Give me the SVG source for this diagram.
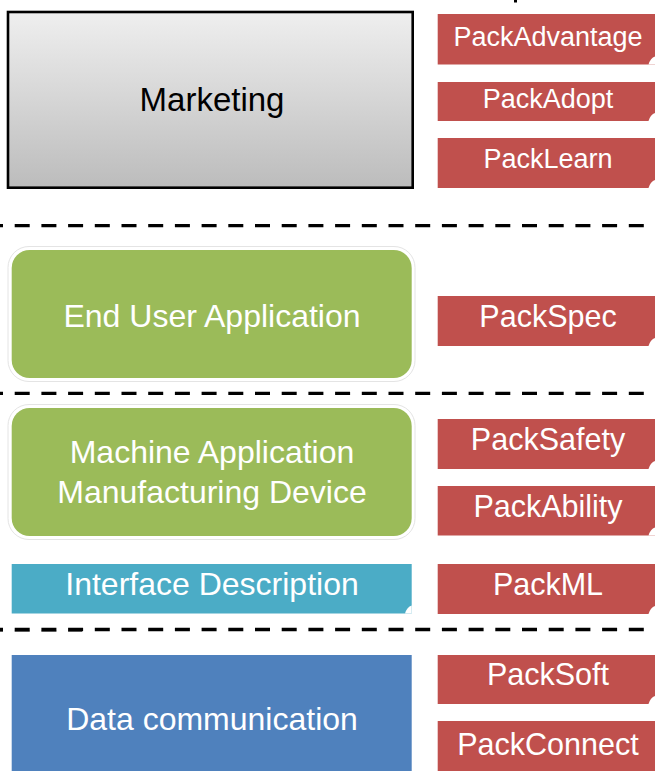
<svg xmlns="http://www.w3.org/2000/svg" width="655" height="771" viewBox="0 0 655 771">
  <defs>
    <linearGradient id="gray" x1="0" y1="0" x2="0" y2="1">
      <stop offset="0" stop-color="#EFEFEF"/>
      <stop offset="1" stop-color="#BCBCBC"/>
    </linearGradient>
    <style>
      .lbl { font-family: "Liberation Sans", Arial, sans-serif; text-anchor: middle; fill: #FFFFFF; }
      .main { font-size: 32px; }
      .red { font-size: 30.5px; }
      .redsm { font-size: 27px; }
      .redbox { fill: #C0504D; }
      .green { fill: #9BBB59; }
      .glow { fill: none; stroke: #E4E4E4; stroke-width: 1; }
      .curl { fill: #FFFFFF; }
      .dash { stroke: #000000; stroke-width: 3.3; stroke-dasharray: 15 11.7; stroke-dashoffset: 12; fill: none; }
    </style>
  </defs>
  <rect width="655" height="771" fill="#FFFFFF"/>

  <!-- small clipped mark at top -->
  <rect x="514" y="0" width="3" height="2.5" fill="#000000"/>

  <g id="marketing">
    <rect x="8" y="12" width="404.7" height="175.7" fill="url(#gray)" stroke="#000000" stroke-width="2.6"/>
    <text class="lbl" x="212" y="111" style="font-size:33px;fill:#000000">Marketing</text>
  </g>

  <g id="packadvantage">
    <rect class="redbox" x="437.7" y="14" width="217.3" height="50.5"/>
    <path class="curl" d="M648.5 64.5 Q650.5 58 655 56.5 L655 64.5 Z"/>
    <text class="lbl redsm" x="548" y="45.7">PackAdvantage</text>
  </g>
  <g id="packadopt">
    <rect class="redbox" x="437.7" y="82" width="217.3" height="39"/>
    <path class="curl" d="M648.5 121 Q650.5 114.5 655 113 L655 121 Z"/>
    <text class="lbl redsm" x="548" y="108">PackAdopt</text>
  </g>
  <g id="packlearn">
    <rect class="redbox" x="437.7" y="138" width="217.3" height="50"/>
    <path class="curl" d="M648.5 188 Q650.5 181.5 655 180 L655 188 Z"/>
    <text class="lbl redsm" x="548" y="168">PackLearn</text>
  </g>

  <g id="end-user-application">
    <rect class="glow" x="8" y="246.5" width="407" height="135" rx="21"/>
    <rect class="green" x="11.7" y="250" width="400" height="128" rx="18"/>
    <text class="lbl main" x="212" y="327.3">End User Application</text>
  </g>
  <g id="packspec">
    <rect class="redbox" x="437.7" y="296" width="217.3" height="50"/>
    <path class="curl" d="M648.5 346 Q650.5 339.5 655 338 L655 346 Z"/>
    <text class="lbl red" x="548" y="327">PackSpec</text>
  </g>

  <g id="machine-application">
    <rect class="glow" x="8" y="404.5" width="407" height="135" rx="21"/>
    <rect class="green" x="11.7" y="408" width="400" height="128" rx="18"/>
    <text class="lbl main" x="212" y="463">Machine Application</text>
    <text class="lbl main" x="212" y="503.3">Manufacturing Device</text>
  </g>
  <g id="packsafety">
    <rect class="redbox" x="437.7" y="419" width="217.3" height="50"/>
    <path class="curl" d="M648.5 469 Q650.5 462.5 655 461 L655 469 Z"/>
    <text class="lbl red" x="548" y="450">PackSafety</text>
  </g>
  <g id="packability">
    <rect class="redbox" x="437.7" y="486" width="217.3" height="49.5"/>
    <path class="curl" d="M648.5 535.5 Q650.5 529 655 527.5 L655 535.5 Z"/>
    <text class="lbl red" x="548" y="516.7">PackAbility</text>
  </g>

  <g id="interface-description">
    <rect x="11.7" y="564" width="400" height="49.5" fill="#4BACC6"/>
    <path class="curl" d="M405 613.5 Q407 607 411.7 605.5 L411.7 613.5 Z"/>
    <text class="lbl main" x="212" y="595">Interface Description</text>
  </g>
  <g id="packml">
    <rect class="redbox" x="437.7" y="564" width="217.3" height="50"/>
    <path class="curl" d="M648.5 614 Q650.5 607.5 655 606 L655 614 Z"/>
    <text class="lbl red" x="548" y="595">PackML</text>
  </g>

  <g id="data-communication">
    <rect x="11.7" y="655" width="400" height="116" fill="#4F81BD"/>
    <text class="lbl main" x="212" y="730">Data communication</text>
  </g>
  <g id="packsoft">
    <rect class="redbox" x="437.7" y="655" width="217.3" height="49"/>
    <path class="curl" d="M648.5 704 Q650.5 697.5 655 696 L655 704 Z"/>
    <text class="lbl red" x="548" y="685">PackSoft</text>
  </g>
  <g id="packconnect">
    <rect class="redbox" x="437.7" y="721" width="217.3" height="50"/>
    <text class="lbl red" x="548" y="755">PackConnect</text>
  </g>

  <g id="connectors">
    <line class="dash" x1="0" y1="225.7" x2="655" y2="225.7"/>
    <line class="dash" x1="0" y1="393.3" x2="655" y2="393.3"/>
    <line x1="0" y1="631.3" x2="82" y2="631.3" stroke="#7A7A7A" stroke-width="1.5" stroke-dasharray="15 11.7" stroke-dashoffset="12"/>
    <line class="dash" x1="0" y1="629.5" x2="655" y2="629.5"/>
  </g>
</svg>
